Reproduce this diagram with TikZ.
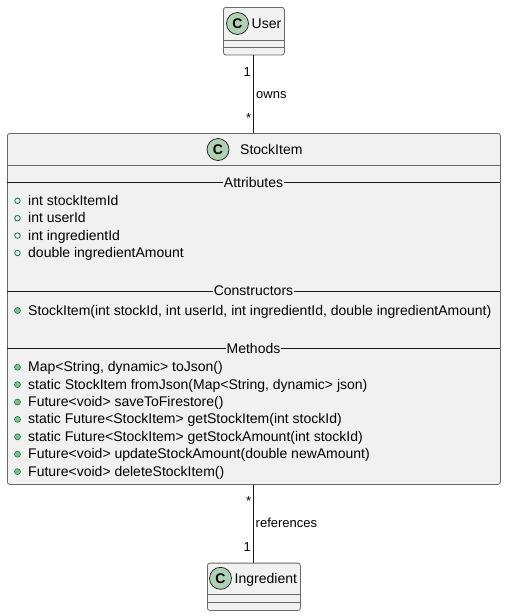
\documentclass[tikz,border=0pt]{standalone}
\usepackage{fontspec}
\setmainfont{Liberation Sans}
\definecolor{boxfill}{HTML}{F1F1F1}
\definecolor{boxline}{HTML}{181818}
\definecolor{boxedge}{HTML}{6A6A6A}
\definecolor{circfill}{HTML}{ADD1B2}
\definecolor{fieldgreen}{HTML}{038048}
\definecolor{methfill}{HTML}{84BE84}
\tikzset{
 classbox/.style={draw=boxedge, line width=0.8pt, fill=boxfill, rounded corners=2.5pt, inner sep=0pt, anchor=north west},
 sepline/.style={draw=boxedge, line width=0.8pt},
 secline/.style={draw=boxline, line width=1pt},
 sectitle/.style={fill=boxfill, inner xsep=0.6pt, inner ysep=1pt, font=\fontsize{14}{14}\selectfont},
 member/.style={anchor=base west, inner sep=0pt, font=\fontsize{14}{14}\selectfont},
 classname/.style={anchor=base west, inner sep=0pt, font=\fontsize{14}{14}\selectfont},
 badge/.style={circle, draw=boxline, line width=0.7pt, fill=circfill, minimum size=22pt, inner sep=0pt, font=\fontsize{14}{14}\selectfont\bfseries},
 fieldmark/.style={circle, draw=fieldgreen, line width=0.8pt, minimum size=5.5pt, inner sep=0pt},
 methmark/.style={circle, draw=fieldgreen, fill=methfill, line width=0.6pt, minimum size=6pt, inner sep=0pt},
 link/.style={draw=boxline, line width=1pt},
 mult/.style={font=\fontsize{13}{13}\selectfont, inner sep=0pt, anchor=base east},
 rel/.style={font=\fontsize{13}{13}\selectfont, inner sep=0pt, anchor=base west},
}
\begin{document}
\begin{tikzpicture}[x=1pt,y=-1pt]
\useasboundingbox (0,0) rectangle (506,616);
% ---------- User ----------
\node[classbox, minimum width=61pt, minimum height=47.5pt] (user) at (223,7) {};
\draw[sepline] (223,40) -- (284,40);
\draw[sepline] (223,47.3) -- (284,47.3);
\node[badge] (userC) at (237.5,23.5) {C};
\node[classname] (userN) at (251.5,28.6) {User};
% ---------- StockItem ----------
\node[classbox, minimum width=493pt, minimum height=351pt] (stock) at (7,133) {};
\node[badge] (stockC) at (218,149.5) {C};
\node[classname] (stockN) at (240,154.6) {StockItem};
\draw[sepline] (7,165.5) -- (500,165.5);
\draw[secline] (7,182) -- (500,182);
\node[sectitle] (attrT) at (253.5,182) {Attributes};
\node[fieldmark] (fm1) at (17.5,200.8) {};
\node[member] (f1) at (28,205.3) {int stockItemId};
\node[fieldmark] (fm2) at (17.5,218.2) {};
\node[member] (f2) at (28,222.7) {int userId};
\node[fieldmark] (fm3) at (17.5,235.6) {};
\node[member] (f3) at (28,240.1) {int ingredientId};
\node[fieldmark] (fm4) at (17.5,253.0) {};
\node[member] (f4) at (28,257.5) {double ingredientAmount};
\draw[secline] (7,291) -- (500,291);
\node[sectitle] (consT) at (253.5,291) {Constructors};
\node[methmark] (cm1) at (17.5,310.5) {};
\node[member] (c1) at (28,315) {StockItem(int stockId, int userId, int ingredientId, double ingredientAmount)};
\draw[secline] (7,348.3) -- (500,348.3);
\node[sectitle] (methT) at (253.5,348.3) {Methods};
\node[methmark] (mm1) at (17.5,367.2) {};
\node[member] (mt1) at (28,371.7) {Map<String, dynamic> toJson()};
\node[methmark] (mm2) at (17.5,384.6) {};
\node[member] (mt2) at (28,389.1) {static StockItem fromJson(Map<String, dynamic> json)};
\node[methmark] (mm3) at (17.5,402.0) {};
\node[member] (mt3) at (28,406.5) {Future<void> saveToFirestore()};
\node[methmark] (mm4) at (17.5,419.4) {};
\node[member] (mt4) at (28,423.9) {static Future<StockItem> getStockItem(int stockId)};
\node[methmark] (mm5) at (17.5,436.8) {};
\node[member] (mt5) at (28,441.3) {static Future<StockItem> getStockAmount(int stockId)};
\node[methmark] (mm6) at (17.5,454.2) {};
\node[member] (mt6) at (28,458.7) {Future<void> updateStockAmount(double newAmount)};
\node[methmark] (mm7) at (17.5,471.6) {};
\node[member] (mt7) at (28,476.1) {Future<void> deleteStockItem()};
% ---------- Ingredient ----------
\node[classbox, minimum width=93pt, minimum height=47.3pt] (ingr) at (207,562.7) {};
\draw[sepline] (207,594) -- (300,594);
\draw[sepline] (207,602.3) -- (300,602.3);
\node[badge] (ingrC) at (220.5,578.3) {C};
\node[classname] (ingrN) at (234.5,583.4) {Ingredient};
% ---------- connectors ----------
\draw[link] (user.south) -- (stock.north);
\draw[link] (stock.south) -- (ingr.north);
\node[mult] (m1) at (251,76.4) {1};
\node[rel] (owns) at (256,98.5) {owns};
\node[mult] (m2) at (251.5,122.5) {*};
\node[mult] (m3) at (251.5,505.5) {*};
\node[rel] (refs) at (255.5,527.5) {references};
\node[mult] (m4) at (251,551.4) {1};
\end{tikzpicture}
\end{document}
